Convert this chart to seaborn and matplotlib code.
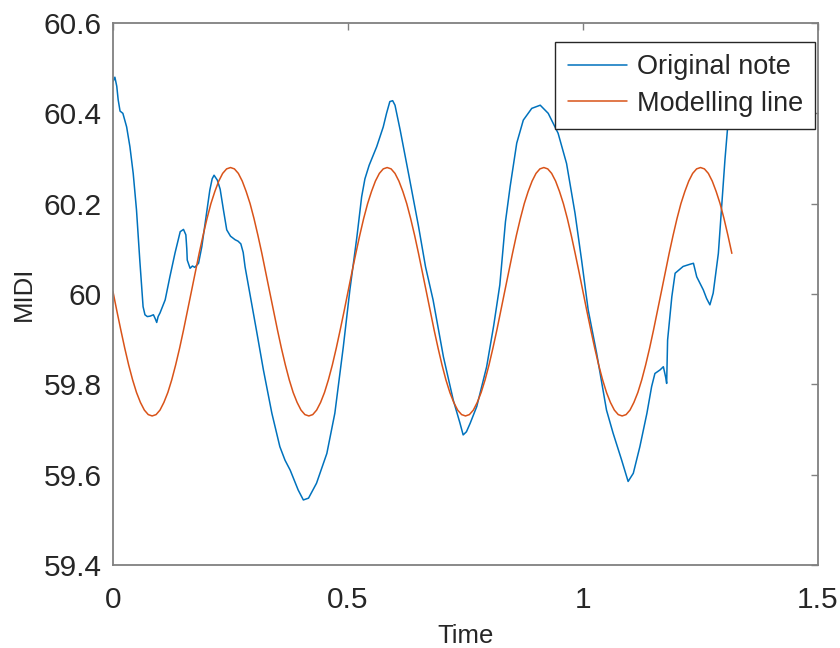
import matplotlib
matplotlib.use("Agg")
import matplotlib.pyplot as plt
import seaborn as sns
import pandas as pd

# ---- data ----
t_note = [0.000, 0.004, 0.008, 0.011, 0.015, 0.021, 0.029, 0.036, 0.043, 0.050,
          0.057, 0.064, 0.068, 0.073, 0.079, 0.086, 0.090, 0.093, 0.096, 0.100,
          0.111, 0.121, 0.132, 0.143, 0.150, 0.155, 0.157, 0.158, 0.164, 0.169,
          0.174, 0.182, 0.189, 0.199, 0.206, 0.211, 0.215, 0.222, 0.228, 0.235,
          0.242, 0.250, 0.260, 0.266, 0.272, 0.277, 0.281, 0.291, 0.306, 0.320,
          0.338, 0.355, 0.366, 0.377, 0.394, 0.405, 0.416, 0.433, 0.455, 0.472, 0.490,
          0.504, 0.519, 0.529, 0.536, 0.545, 0.561, 0.575, 0.582, 0.589, 0.595, 0.600, 0.611,
          0.630, 0.650, 0.665, 0.681, 0.703, 0.724, 0.738, 0.745, 0.752, 0.760,
          0.774, 0.795, 0.810, 0.823, 0.835, 0.845, 0.859, 0.873, 0.891, 0.909,
          0.926, 0.947, 0.965, 0.983, 0.997, 1.011, 1.029, 1.050, 1.064, 1.082,
          1.096, 1.107, 1.121, 1.136, 1.146, 1.153, 1.164, 1.171, 1.176, 1.178,
          1.180, 1.189, 1.196, 1.213, 1.228, 1.235, 1.242, 1.256, 1.263, 1.270,
          1.277, 1.288, 1.295, 1.302, 1.309, 1.315]
midi_note = [60.470, 60.480, 60.460, 60.430, 60.405, 60.400, 60.370, 60.326, 60.267, 60.186,
             60.075, 59.972, 59.954, 59.950, 59.951, 59.954, 59.945, 59.937, 59.950, 59.958,
             59.987, 60.038, 60.091, 60.138, 60.143, 60.131, 60.100, 60.075, 60.057, 60.062,
             60.059, 60.068, 60.105, 60.179, 60.230, 60.255, 60.263, 60.252, 60.232, 60.186,
             60.142, 60.128, 60.120, 60.117, 60.111, 60.092, 60.060, 60.002, 59.915, 59.832,
             59.736, 59.662, 59.632, 59.610, 59.566, 59.544, 59.548, 59.581, 59.647, 59.736, 59.883,
             60.009, 60.127, 60.215, 60.255, 60.285, 60.326, 60.370, 60.400, 60.426, 60.428, 60.418, 60.363,
             60.260, 60.150, 60.060, 59.987, 59.861, 59.765, 59.715, 59.688, 59.695, 59.714,
             59.751, 59.839, 59.930, 60.020, 60.160, 60.238, 60.334, 60.385, 60.411, 60.418,
             60.400, 60.356, 60.289, 60.179, 60.075, 59.965, 59.869, 59.743, 59.692, 59.633,
             59.585, 59.603, 59.662, 59.736, 59.795, 59.824, 59.832, 59.839, 59.815, 59.802,
             59.898, 59.994, 60.046, 60.061, 60.066, 60.068, 60.038, 60.009, 59.990, 59.976,
             60.002, 60.090, 60.193, 60.297, 60.385, 60.470]

t_model = [0.0, 0.0083, 0.0167, 0.025, 0.0333, 0.0417, 0.05, 0.0583, 0.0667, 0.075, 0.0833, 0.0917,
           0.1, 0.1083, 0.1167, 0.125, 0.1333, 0.1417, 0.15, 0.1583, 0.1667, 0.175, 0.1833, 0.1917,
           0.2, 0.2083, 0.2167, 0.225, 0.2333, 0.2417, 0.25, 0.2583, 0.2667, 0.275, 0.2833, 0.2917,
           0.3, 0.3083, 0.3167, 0.325, 0.3333, 0.3417, 0.35, 0.3583, 0.3667, 0.375, 0.3833, 0.3917,
           0.4, 0.4083, 0.4167, 0.425, 0.4333, 0.4417, 0.45, 0.4583, 0.4667, 0.475, 0.4833, 0.4917,
           0.5, 0.5083, 0.5167, 0.525, 0.5333, 0.5417, 0.55, 0.5583, 0.5667, 0.575, 0.5833, 0.5917,
           0.6, 0.6083, 0.6167, 0.625, 0.6333, 0.6417, 0.65, 0.6583, 0.6667, 0.675, 0.6833, 0.6917,
           0.7, 0.7083, 0.7167, 0.725, 0.7333, 0.7417, 0.75, 0.7583, 0.7667, 0.775, 0.7833, 0.7917,
           0.8, 0.8083, 0.8167, 0.825, 0.8333, 0.8417, 0.85, 0.8583, 0.8667, 0.875, 0.8833, 0.8917,
           0.9, 0.9083, 0.9167, 0.925, 0.9333, 0.9417, 0.95, 0.9583, 0.9667, 0.975, 0.9833, 0.9917,
           1.0, 1.0083, 1.0167, 1.025, 1.0333, 1.0417, 1.05, 1.0583, 1.0667, 1.075, 1.0833, 1.0917,
           1.1, 1.1083, 1.1167, 1.125, 1.1333, 1.1417, 1.15, 1.1583, 1.1667, 1.175, 1.1833, 1.1917,
           1.2, 1.2083, 1.2167, 1.225, 1.2333, 1.2417, 1.25, 1.2583, 1.2667, 1.275, 1.2833, 1.2917,
           1.3, 1.3083, 1.3167]
midi_model = [60.005, 59.962, 59.920, 59.880, 59.843, 59.810, 59.782, 59.760, 59.743, 59.733,
              59.730, 59.733, 59.743, 59.760, 59.782, 59.810, 59.843, 59.880, 59.920, 59.962,
              60.005, 60.048, 60.090, 60.130, 60.167, 60.200, 60.227, 60.250, 60.267, 60.277,
              60.280, 60.277, 60.267, 60.250, 60.227, 60.200, 60.167, 60.130, 60.090, 60.048,
              60.005, 59.962, 59.920, 59.880, 59.843, 59.810, 59.782, 59.760, 59.743, 59.733,
              59.730, 59.733, 59.743, 59.760, 59.782, 59.810, 59.843, 59.880, 59.920, 59.962,
              60.005, 60.048, 60.090, 60.130, 60.167, 60.200, 60.227, 60.250, 60.267, 60.277,
              60.280, 60.277, 60.267, 60.250, 60.227, 60.200, 60.167, 60.130, 60.090, 60.048,
              60.005, 59.962, 59.920, 59.880, 59.843, 59.810, 59.782, 59.760, 59.743, 59.733,
              59.730, 59.733, 59.743, 59.760, 59.782, 59.810, 59.843, 59.880, 59.920, 59.962,
              60.005, 60.048, 60.090, 60.130, 60.167, 60.200, 60.227, 60.250, 60.267, 60.277,
              60.280, 60.277, 60.267, 60.250, 60.227, 60.200, 60.167, 60.130, 60.090, 60.048,
              60.005, 59.962, 59.920, 59.880, 59.843, 59.810, 59.782, 59.760, 59.743, 59.733,
              59.730, 59.733, 59.743, 59.760, 59.782, 59.810, 59.843, 59.880, 59.920, 59.962,
              60.005, 60.048, 60.090, 60.130, 60.167, 60.200, 60.227, 60.250, 60.267, 60.277,
              60.280, 60.277, 60.267, 60.250, 60.227, 60.200, 60.167, 60.130, 60.090]

series_names = ["Original note", "Modelling line"]
series_colors = ["#0072BD", "#D95319"]
x_ticks = [0, 0.5, 1, 1.5]
x_tick_labels = ["0", "0.5", "1", "1.5"]
y_ticks = [59.4, 59.6, 59.8, 60.0, 60.2, 60.4, 60.6]
y_tick_labels = ["59.4", "59.6", "59.8", "60", "60.2", "60.4", "60.6"]

df = pd.concat([
    pd.DataFrame({"Time": t_note, "MIDI": midi_note, "series": series_names[0]}),
    pd.DataFrame({"Time": t_model, "MIDI": midi_model, "series": series_names[1]}),
], ignore_index=True)

# ---- style ----
sns.set_theme(style="white")
plt.rcParams["font.family"] = ["Liberation Sans", "DejaVu Sans"]

fig = plt.figure(figsize=(8.4, 6.48), dpi=100)
ax = fig.add_axes([113 / 840, 83 / 648, 705 / 840, 542 / 648])

sns.lineplot(data=df, x="Time", y="MIDI", hue="series", hue_order=series_names,
             palette=series_colors, estimator=None, sort=False, linewidth=1.1,
             ax=ax, legend=True)

ax.set_xlim(0, 1.5)
ax.set_ylim(59.4, 60.6)
ax.set_xticks(x_ticks)
ax.set_xticklabels(x_tick_labels)
ax.set_yticks(y_ticks)
ax.set_yticklabels(y_tick_labels)

for sp in ax.spines.values():
    sp.set_visible(True)
    sp.set_color("#808080")
    sp.set_linewidth(1.3)

ax.tick_params(axis="both", which="major", direction="in", length=5, width=1.0,
               color="#808080", labelcolor="#262626", labelsize=21.5,
               top=True, right=True)
ax.tick_params(axis="x", pad=15)
ax.tick_params(axis="y", pad=8)

ax.set_xlabel("Time", fontsize=18.5, color="#262626", labelpad=7.5)
ax.set_ylabel("MIDI", fontsize=18.5, color="#262626", labelpad=6)

handles, labels = ax.get_legend_handles_labels()
leg = ax.legend(handles, labels, loc="upper right", bbox_to_anchor=(0.996, 0.965),
                borderaxespad=0, fontsize=19.5, frameon=True, fancybox=False,
                shadow=False, framealpha=1, edgecolor="#262626",
                handlelength=2.2, handletextpad=0.35, labelspacing=0.39,
                borderpad=0.45)
leg.get_frame().set_linewidth(1.0)
for line in leg.get_lines():
    line.set_linewidth(1.1)

fig.savefig("out.png", dpi=100, facecolor="white")
